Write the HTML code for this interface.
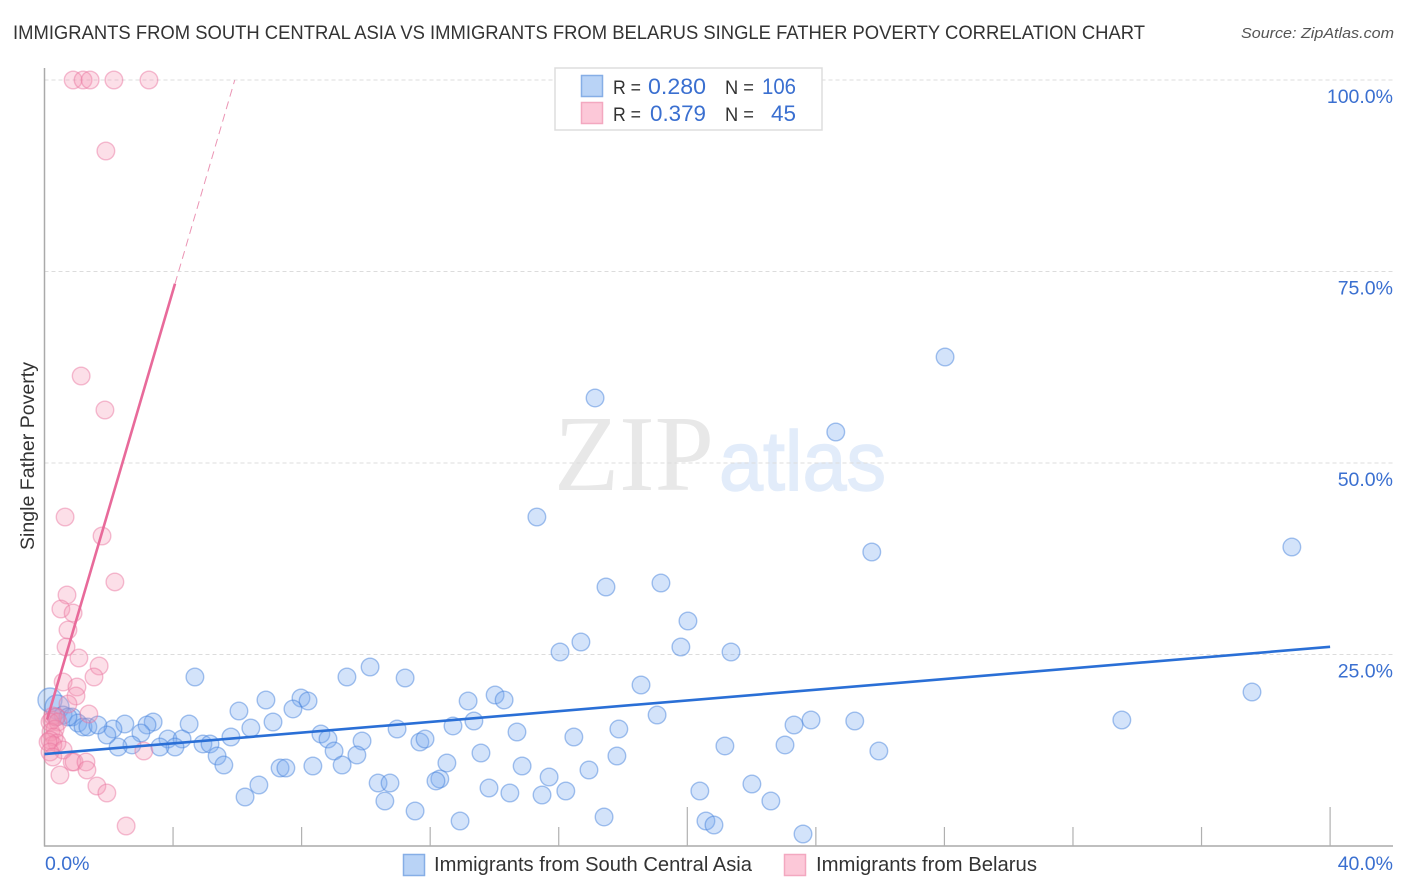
<!DOCTYPE html>
<html>
<head>
<meta charset="utf-8">
<title>Single Father Poverty Correlation Chart</title>
<style>
html,body{margin:0;padding:0;background:#fff;width:1406px;height:892px;overflow:hidden}
svg{display:block;font-family:"Liberation Sans",sans-serif}
</style>
</head>
<body>
<svg id="chart" width="1406" height="892" viewBox="0 0 1406 892" xmlns="http://www.w3.org/2000/svg">
<rect x="0" y="0" width="1406" height="892" fill="#ffffff"/>
<text x="13" y="39" font-size="19.5" fill="#333333" textLength="1132" lengthAdjust="spacingAndGlyphs">IMMIGRANTS FROM SOUTH CENTRAL ASIA VS IMMIGRANTS FROM BELARUS SINGLE FATHER POVERTY CORRELATION CHART</text>
<text x="1241" y="38" font-size="15" font-style="italic" fill="#555555" textLength="153" lengthAdjust="spacingAndGlyphs">Source: ZipAtlas.com</text>
<text x="554" y="490" font-family="'Liberation Serif',serif" font-size="108" fill="#e8e8e8" textLength="160" lengthAdjust="spacingAndGlyphs">ZIP</text>
<text x="719" y="490" font-size="84" fill="#e2ecfa" stroke="#e2ecfa" stroke-width="1.5" textLength="167" lengthAdjust="spacingAndGlyphs">atlas</text>
<g id="grid"></g>
<g id="axes"></g>
<text transform="translate(34,550) rotate(-90)" font-size="19" fill="#333333" textLength="188" lengthAdjust="spacingAndGlyphs">Single Father Poverty</text>
<g id="blue-series"></g>
<g id="pink-series"></g>
<g id="trends"></g>
<g>
<rect x="555" y="68" width="267" height="62" fill="#ffffff" stroke="#dddddd" stroke-width="1.5"/>
<rect x="581.5" y="75.5" width="21" height="21" fill="#b9d3f6" stroke="#86aee6" stroke-width="1.5"/>
<rect x="581.5" y="102.5" width="21" height="21" fill="#fcc8d8" stroke="#f3a8c0" stroke-width="1.5"/>
<text x="613" y="94" font-size="19.5" fill="#333333" textLength="28" lengthAdjust="spacingAndGlyphs">R =</text>
<text x="648" y="94" font-size="22" fill="#3a6fd0" textLength="58" lengthAdjust="spacingAndGlyphs">0.280</text>
<text x="725" y="94" font-size="19.5" fill="#333333" textLength="29" lengthAdjust="spacingAndGlyphs">N =</text>
<text x="762" y="94" font-size="22" fill="#3a6fd0" textLength="34" lengthAdjust="spacingAndGlyphs">106</text>
<text x="613" y="121" font-size="19.5" fill="#333333" textLength="28" lengthAdjust="spacingAndGlyphs">R =</text>
<text x="650" y="121" font-size="22" fill="#3a6fd0" textLength="56" lengthAdjust="spacingAndGlyphs">0.379</text>
<text x="725" y="121" font-size="19.5" fill="#333333" textLength="29" lengthAdjust="spacingAndGlyphs">N =</text>
<text x="771" y="121" font-size="22" fill="#3a6fd0" textLength="25" lengthAdjust="spacingAndGlyphs">45</text>
</g>
<g>
<rect x="403.5" y="854.5" width="21" height="21" fill="#b9d3f6" stroke="#86aee6" stroke-width="1.5"/>
<text x="434" y="871" font-size="20" fill="#333333" textLength="318" lengthAdjust="spacingAndGlyphs">Immigrants from South Central Asia</text>
<rect x="784.5" y="854.5" width="21" height="21" fill="#fcc8d8" stroke="#f3a8c0" stroke-width="1.5"/>
<text x="816" y="871" font-size="20" fill="#333333" textLength="221" lengthAdjust="spacingAndGlyphs">Immigrants from Belarus</text>
</g>
</svg>
<script>
var xTickValues = [0, 4, 8, 12, 16, 20, 24, 28, 32, 36, 40];
var xMajorTicks = [20, 40];
var xTickLabels = ["0.0%", "40.0%"];
var yTickValues = [100, 75, 50, 25];
var yTickLabels = ["100.0%", "75.0%", "50.0%", "25.0%"];

var blueX = [38.81,28.02,24.62,25.74,17.13,15.32,17.47,19.18,20.02,19.80,21.36,16.69,16.04,18.56,37.57,33.52,25.21,23.85,23.32,19.06,25.96,23.04,21.17,22.01,22.60,23.60,20.39,20.58,20.83,17.41,17.81,17.87,16.47,16.94,16.22,
9.41,10.13,11.22,13.18,14.02,14.30,13.36,12.71,10.97,14.70,8.60,8.82,9.88,11.68,11.84,9.01,9.72,9.26,13.58,12.52,13.83,14.48,14.86,15.48,15.70,12.30,12.18,10.38,10.75,10.59,11.53,12.93,
4.68,6.89,6.05,7.98,8.20,7.73,7.11,6.42,5.80,4.50,3.38,3.19,2.50,2.13,3.00,3.84,4.28,4.06,3.59,2.72,2.29,1.94,4.93,5.15,5.37,5.58,7.33,7.51,8.35,6.67,6.24,
0.58,0.86,1.04,1.20,1.35,1.66,0.36,0.73];
var blueY = [39.03,63.84,54.05,38.38,58.49,42.95,33.81,34.33,29.37,25.98,25.33,26.63,25.33,21.02,20.10,16.45,16.32,16.45,15.80,17.10,12.40,13.19,13.06,8.09,5.87,1.57,7.18,3.26,2.74,3.79,11.75,15.27,14.23,9.92,7.18,
22.06,23.37,21.93,18.93,19.71,19.06,16.32,15.67,15.27,14.88,14.62,13.97,13.71,13.58,13.97,12.40,11.88,10.57,12.14,10.84,7.57,6.92,10.44,6.66,9.01,8.75,8.49,8.22,8.22,5.87,4.57,3.26,
22.06,19.06,17.62,19.32,18.93,17.89,16.19,15.40,14.23,15.93,16.19,15.80,15.93,15.27,14.75,13.97,13.97,12.92,12.92,13.19,12.92,14.49,13.32,13.32,11.75,10.57,10.18,10.18,10.44,7.96,6.40,
17.10,16.84,16.06,15.54,15.54,15.80,16.84,16.84];
var blueLargeX = [0.17, 0.39];
var blueLargeY = [19.06, 18.15];

var pinkX = [0.89,1.20,1.42,2.16,3.25,1.91,1.14,1.88,0.64,1.79,2.19,0.70,0.51,0.89,0.73,0.67,1.07,1.70,1.54,0.58,1.01,0.98,0.73,1.38,0.23,0.36,0.26,0.17,0.42,0.20,0.33,0.30,0.17,0.39,0.26,0.11,0.58,0.17,0.26,0.86,0.92,1.29,1.32,0.48,1.63,1.94,2.54,3.09];
var pinkY = [100,100,100,100,100,90.73,61.36,56.92,42.95,40.47,34.47,32.77,30.94,30.42,28.20,25.98,24.54,23.50,22.06,21.41,20.76,19.58,18.54,17.23,16.45,16.84,16.97,16.19,16.19,14.88,15.27,14.23,13.84,13.45,13.19,13.58,12.53,12.27,11.62,10.97,10.97,10.97,9.92,9.27,7.83,6.92,2.61,12.40];

var blueTrendX = [0, 40];
var blueTrendY = [12.0, 26.0];
var pinkTrendX = [0.08, 4.06];
var pinkTrendY = [16.5, 73.4];
var pinkDashX = [4.06, 5.92];
var pinkDashY = [73.4, 100];

var NS = 'http://www.w3.org/2000/svg';
function sx(v){ return 44.5 + v * 32.14; }
function sy(v){ return 846 - v * 7.66; }
function make(tag, parent, attrs){
  var el = document.createElementNS(NS, tag);
  for (var k in attrs) el.setAttribute(k, attrs[k]);
  parent.appendChild(el);
  return el;
}
var grid = document.getElementById('grid');
var axes = document.getElementById('axes');
var blueG = document.getElementById('blue-series');
var pinkG = document.getElementById('pink-series');
var trends = document.getElementById('trends');

yTickValues.forEach(function(v, i){
  var g = make('line', grid, {x1: 44.5, x2: 1393, y1: sy(v), y2: sy(v), stroke: '#dcdcdc', 'stroke-width': 1, 'stroke-dasharray': '4 3'});
  
  
  var t = make('text', axes, {x: 1393, y: sy(v) + 23, 'text-anchor': 'end', 'font-size': 19.5, fill: '#3a6fd0'});
  
  
  t.textContent = yTickLabels[i];
});

var yAxis = make('line', axes, {x1: 44.5, x2: 44.5, y1: 68, y2: 846.5, stroke: '#aaaaaa', 'stroke-width': 1.5});


var xAxis = make('line', axes, {x1: 44, x2: 1393, y1: 846, y2: 846, stroke: '#aaaaaa', 'stroke-width': 1.5});



xTickValues.forEach(function(v){
  if (v === 0) return;
  var major = xMajorTicks.indexOf(v) >= 0;
  var tick = make('line', axes, {x1: sx(v), x2: sx(v), y1: major ? 807 : 827, y2: 846, stroke: '#b0b0b0', 'stroke-width': 1.2});
  
  
});
var xl0 = make('text', axes, {x: 45, y: 870, 'font-size': 19.5, fill: '#3a6fd0'});


xl0.textContent = xTickLabels[0];
var xl1 = make('text', axes, {x: 1393, y: 870, 'text-anchor': 'end', 'font-size': 19.5, fill: '#3a6fd0'});


xl1.textContent = xTickLabels[1];

var blueStyle = {fill: 'rgba(120,170,240,0.33)', stroke: 'rgba(70,130,220,0.48)', 'stroke-width': 1.4};
var pinkStyle = {fill: 'rgba(245,150,180,0.3)', stroke: 'rgba(235,120,160,0.48)', 'stroke-width': 1.4};
function dot(parent, x, y, r, style){
  var a = {cx: sx(x), cy: sy(y), r: r};
  for (var k in style) a[k] = style[k];
  return make('circle', parent, a);
}
blueLargeX.forEach(function(x, i){
  var c = dot(blueG, x, blueLargeY[i], 12, blueStyle);
  
  
});
blueX.forEach(function(x, i){
  var c = dot(blueG, x, blueY[i], 8.8, blueStyle);
  
  
});
pinkX.forEach(function(x, i){
  var c = dot(pinkG, x, pinkY[i], 8.8, pinkStyle);
  
  
});

var l1 = make('line', trends, {x1: sx(blueTrendX[0]), y1: sy(blueTrendY[0]), x2: sx(blueTrendX[1]), y2: sy(blueTrendY[1]), stroke: '#2a6fd6', 'stroke-width': 2.6});


var l2 = make('line', trends, {x1: sx(pinkTrendX[0]), y1: sy(pinkTrendY[0]), x2: sx(pinkTrendX[1]), y2: sy(pinkTrendY[1]), stroke: '#e86a9a', 'stroke-width': 2.6});


var l3 = make('line', trends, {x1: sx(pinkDashX[0]), y1: sy(pinkDashY[0]), x2: sx(pinkDashX[1]), y2: sy(pinkDashY[1]), stroke: '#eb94b4', 'stroke-width': 1, 'stroke-dasharray': '8 5'});


</script>
</body>
</html>
